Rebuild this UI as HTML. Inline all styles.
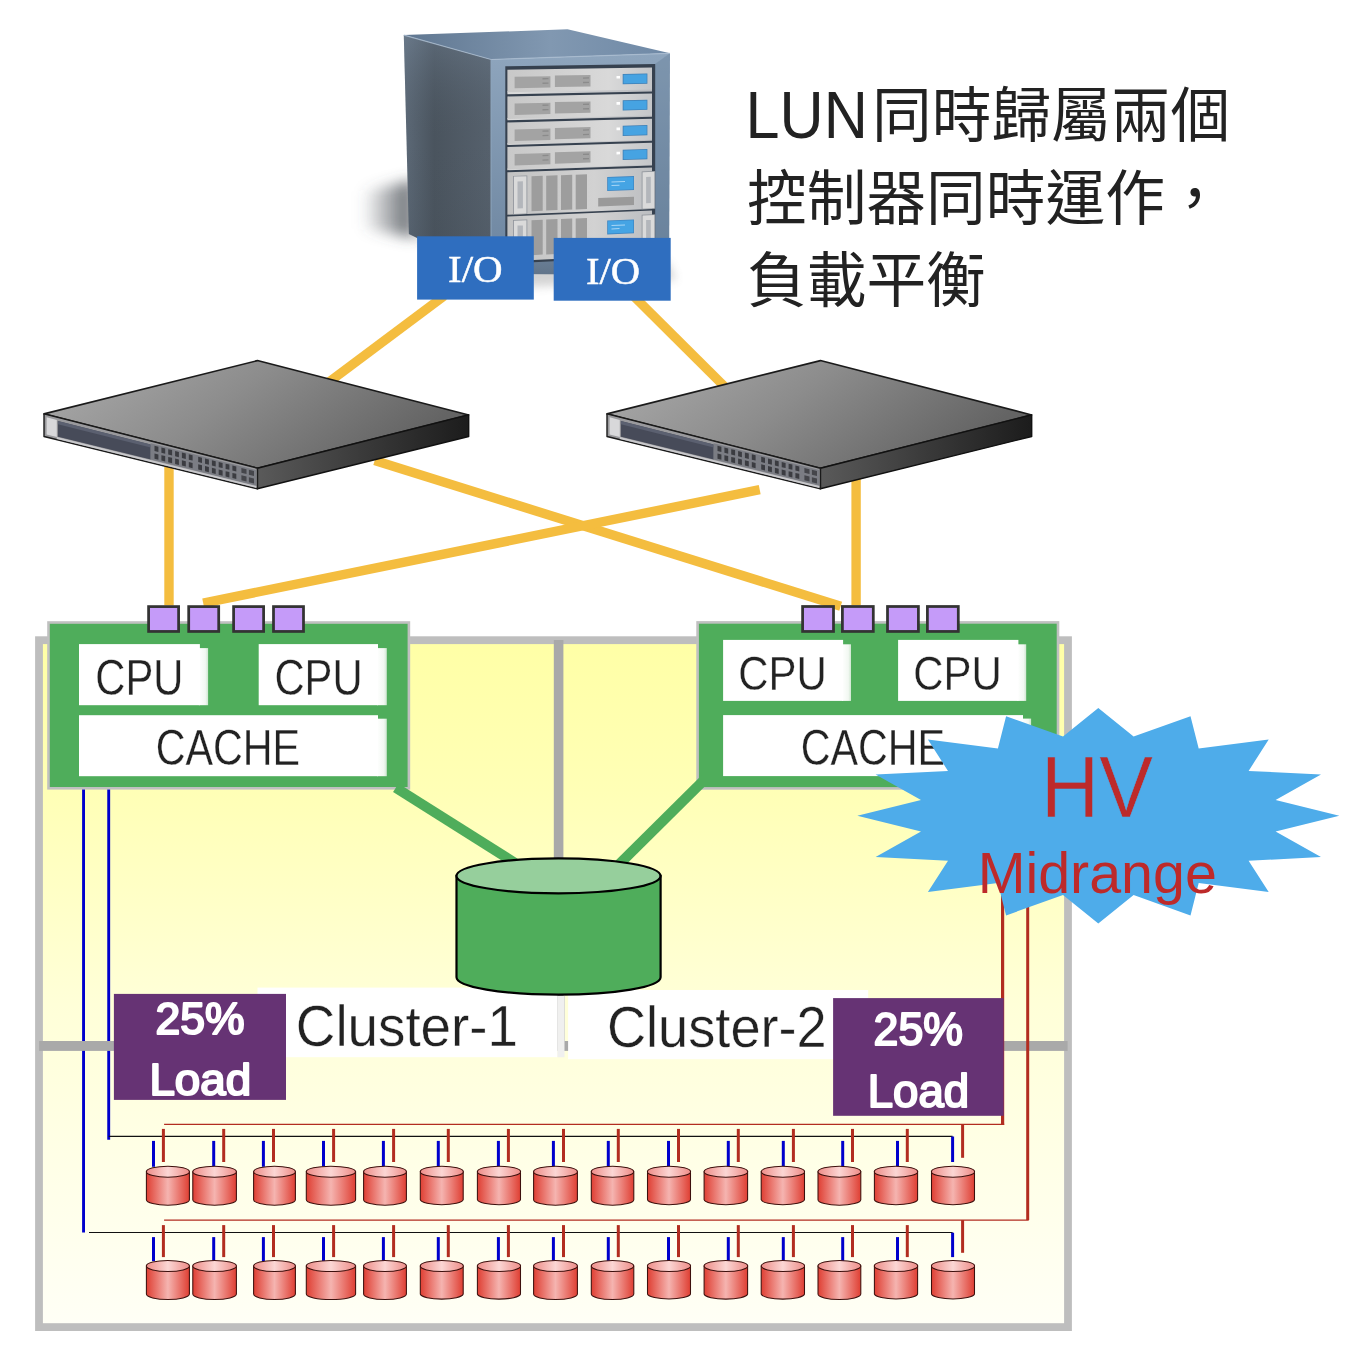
<!DOCTYPE html>
<html lang="zh-Hant"><head><meta charset="utf-8"><title>LUN Active-Active Controllers</title>
<style>
html,body{margin:0;padding:0;background:#fff}
body{width:1352px;height:1366px;overflow:hidden;font-family:"Liberation Sans",sans-serif}
svg{display:block;will-change:transform}
svg text{font-family:"Liberation Sans",sans-serif}
svg text.ser{font-family:"Liberation Serif",serif}
svg text.cjk{font-family:"Liberation Sans","Noto Sans CJK TC",sans-serif}
</style></head><body>
<svg width="1352" height="1366" viewBox="0 0 1352 1366" role="img" aria-label="LUN同時歸屬兩個控制器同時運作，負載平衡">
<desc>LUN同時歸屬兩個控制器同時運作，負載平衡 — server with two I/O ports, two switches, two controllers (CPU, CPU, CACHE) sharing one LUN, Cluster-1 and Cluster-2 each at 25% Load, HV Midrange, two rows of 15 disks.</desc>
<defs>

<filter id="blur6" x="-50%" y="-50%" width="200%" height="200%"><feGaussianBlur stdDeviation="7"/></filter>
<filter id="blur5" x="-50%" y="-50%" width="200%" height="200%"><feGaussianBlur stdDeviation="5"/></filter>
<linearGradient id="gShadow" x1="0" y1="0" x2="1" y2="0"><stop offset="0" stop-color="#50555c" stop-opacity="0"/><stop offset=".55" stop-color="#50555c" stop-opacity=".5"/><stop offset="1" stop-color="#454a50" stop-opacity=".85"/></linearGradient>
<linearGradient id="gTop" x1="0" y1="0" x2="1" y2="0"><stop offset="0" stop-color="#5f7690"/><stop offset=".55" stop-color="#8198b1"/><stop offset="1" stop-color="#6f89a6"/></linearGradient>
<linearGradient id="gLeft" x1="0" y1="0" x2="1" y2="0"><stop offset="0" stop-color="#5d6a78"/><stop offset=".35" stop-color="#4a545e"/><stop offset="1" stop-color="#56616d"/></linearGradient>
<linearGradient id="gLeftV" x1="0" y1="0" x2="0" y2="1"><stop offset="0" stop-color="#8aa0b8" stop-opacity=".28"/><stop offset=".45" stop-color="#4a545e" stop-opacity="0"/><stop offset="1" stop-color="#3d454d" stop-opacity=".25"/></linearGradient>
<linearGradient id="gFront" x1="0" y1="0" x2="0" y2="1"><stop offset="0" stop-color="#8ea5bd"/><stop offset=".85" stop-color="#7189a3"/><stop offset="1" stop-color="#617489"/></linearGradient>
<linearGradient id="gUnit" x1="0" y1="0" x2="1" y2="0"><stop offset="0" stop-color="#c8c8c8"/><stop offset=".7" stop-color="#d9d9d9"/><stop offset="1" stop-color="#c4c6c9"/></linearGradient>
<linearGradient id="gLip" x1="0" y1="0" x2="1" y2="0"><stop offset="0" stop-color="#dcdcdc"/><stop offset="1" stop-color="#b9bbbf"/></linearGradient>
<linearGradient id="gUnit2" x1="0" y1="0" x2="1" y2="0"><stop offset="0" stop-color="#c2c2c2"/><stop offset=".6" stop-color="#d2d2d2"/><stop offset="1" stop-color="#bcbec1"/></linearGradient>


<linearGradient id="gSwTop" x1="0" y1="0" x2="1" y2="0.35"><stop offset="0" stop-color="#adadad"/><stop offset=".5" stop-color="#8c8c8c"/><stop offset="1" stop-color="#646464"/></linearGradient>
<linearGradient id="gSwR" x1="0" y1="0" x2="1" y2="0"><stop offset="0" stop-color="#5a5a5a"/><stop offset=".5" stop-color="#3a3a3a"/><stop offset="1" stop-color="#1c1c1c"/></linearGradient>


<linearGradient id="gBg" x1="0" y1="0" x2="0" y2="1"><stop offset="0" stop-color="#ffffa6"/><stop offset=".22" stop-color="#ffffb6"/><stop offset=".53" stop-color="#ffffd8"/><stop offset="1" stop-color="#fffff6"/></linearGradient>
<linearGradient id="gExt" x1="0" y1="0" x2="1" y2="0"><stop offset="0" stop-color="#fff"/><stop offset=".7" stop-color="#f2f8f2"/><stop offset="1" stop-color="#cfe6d1"/></linearGradient>
<linearGradient id="gDisk" x1="0" y1="0" x2="1" y2="0"><stop offset="0" stop-color="#df3f33"/><stop offset=".5" stop-color="#f5b4b0"/><stop offset="1" stop-color="#df3f33"/></linearGradient>
<linearGradient id="gDiskTop" x1="0" y1="0" x2="1" y2="0"><stop offset="0" stop-color="#ee8d88"/><stop offset=".5" stop-color="#fbd6d4"/><stop offset="1" stop-color="#ee8d88"/></linearGradient>

</defs>
<rect width="1352" height="1366" fill="#fff"/>
<g id="server">
<polygon points="362,192 414,180 414,238 362,228" fill="url(#gShadow)" filter="url(#blur6)"/>
<polygon points="410,236 668,262 676,280 500,288" fill="#777" opacity=".32" filter="url(#blur5)"/>
<polygon points="403.8,35.1 567.5,29.3 670,53.3 491,59.5" fill="url(#gTop)"/>
<polygon points="403.8,35.1 491,59.5 491,274 408.9,234.1" fill="url(#gLeft)"/>
<polygon points="403.8,35.1 491,59.5 491,274 408.9,234.1" fill="url(#gLeftV)"/>
<polygon points="491,59.5 670,53.3 669,275 491,274" fill="url(#gFront)"/>
<polygon points="655,64 670,53.3 669,275 655,270" fill="#5f7792" opacity=".35"/>
<polyline points="403.8,35.1 491,59.5 670,53.3" fill="none" stroke="#a9bccf" stroke-width="1.2" opacity=".8"/>
<line x1="491" y1="59.5" x2="491" y2="274" stroke="#8fa6bd" stroke-width="1.4" opacity=".7"/>
<polygon points="505.3,66.3 655.2,64 655.2,256.3 505.3,263.6" fill="#36414f"/>
<polygon points="507.4,91.2 652,88.4 652,91.4 507.4,94.3" fill="url(#gLip)"/>
<polygon points="507.4,69.7 652,67.4 652,89.4 507.4,92.2" fill="url(#gUnit)"/>
<polygon points="514.6,76.8 550.4,76.2 550.4,87.6 514.6,88.2" fill="#a3a3a3"/>
<polygon points="554.9,75.6 590.5,75 590.5,86.4 554.9,87" fill="#a3a3a3"/>
<polygon points="542.5,78.1 548.5,78 548.5,79.3 542.5,79.4" fill="#8b8b8b"/>
<polygon points="542.5,82.6 548.5,82.5 548.5,83.8 542.5,83.9" fill="#8b8b8b"/>
<polygon points="583,77.4 589,77.3 589,78.6 583,78.7" fill="#8b8b8b"/>
<polygon points="583,81.8 589,81.7 589,83.1 583,83.2" fill="#8b8b8b"/>
<polygon points="622.7,74 647.4,73.6 647.4,83.7 622.7,84.2" fill="#3f7fb5"/>
<polygon points="623.5,74.7 646.7,74.3 646.7,83.1 623.5,83.5" fill="#46a3e2"/>
<polygon points="616.5,75.9 620,75.9 620,78.5 616.5,78.6" fill="#fff"/>
<polygon points="507.4,117.9 652,114.4 652,116.8 507.4,120.3" fill="url(#gLip)"/>
<polygon points="507.4,96.4 652,93.4 652,115.4 507.4,118.9" fill="url(#gUnit)"/>
<polygon points="514.6,103.5 550.4,102.7 550.4,114.1 514.6,114.9" fill="#a3a3a3"/>
<polygon points="554.9,102.1 590.5,101.4 590.5,112.7 554.9,113.5" fill="#a3a3a3"/>
<polygon points="542.5,104.6 548.5,104.5 548.5,105.8 542.5,106" fill="#8b8b8b"/>
<polygon points="542.5,109.1 548.5,109 548.5,110.3 542.5,110.5" fill="#8b8b8b"/>
<polygon points="583,103.7 589,103.6 589,104.9 583,105.1" fill="#8b8b8b"/>
<polygon points="583,108.2 589,108.1 589,109.4 583,109.5" fill="#8b8b8b"/>
<polygon points="622.7,100.2 647.4,99.7 647.4,109.8 622.7,110.4" fill="#3f7fb5"/>
<polygon points="623.5,100.9 646.7,100.4 646.7,109.2 623.5,109.7" fill="#46a3e2"/>
<polygon points="616.5,102.1 620,102.1 620,104.7 616.5,104.8" fill="#fff"/>
<polygon points="507.4,142.9 652,138.8 652,140.8 507.4,144.9" fill="url(#gLip)"/>
<polygon points="507.4,122.4 652,118.8 652,139.8 507.4,143.9" fill="url(#gUnit)"/>
<polygon points="514.6,129.4 550.4,128.5 550.4,139.9 514.6,140.9" fill="#a3a3a3"/>
<polygon points="554.9,127.9 590.5,127 590.5,138.3 554.9,139.3" fill="#a3a3a3"/>
<polygon points="542.5,130.5 548.5,130.3 548.5,131.7 542.5,131.8" fill="#8b8b8b"/>
<polygon points="542.5,135 548.5,134.8 548.5,136.1 542.5,136.3" fill="#8b8b8b"/>
<polygon points="583,129.4 589,129.3 589,130.6 583,130.7" fill="#8b8b8b"/>
<polygon points="583,133.9 589,133.7 589,135 583,135.2" fill="#8b8b8b"/>
<polygon points="622.7,125.7 647.4,125.1 647.4,135.2 622.7,135.9" fill="#3f7fb5"/>
<polygon points="623.5,126.4 646.7,125.8 646.7,134.5 623.5,135.2" fill="#46a3e2"/>
<polygon points="616.5,127.6 620,127.6 620,130.2 616.5,130.3" fill="#fff"/>
<polygon points="507.4,168.5 652,163.8 652,165.4 507.4,170.2" fill="url(#gLip)"/>
<polygon points="507.4,147 652,142.8 652,164.8 507.4,169.5" fill="url(#gUnit)"/>
<polygon points="514.6,154 550.4,152.9 550.4,164.3 514.6,165.5" fill="#a3a3a3"/>
<polygon points="554.9,152.3 590.5,151.3 590.5,162.6 554.9,163.7" fill="#a3a3a3"/>
<polygon points="542.5,154.9 548.5,154.8 548.5,156.1 542.5,156.3" fill="#8b8b8b"/>
<polygon points="542.5,159.4 548.5,159.2 548.5,160.6 542.5,160.8" fill="#8b8b8b"/>
<polygon points="583,153.7 589,153.5 589,154.9 583,155" fill="#8b8b8b"/>
<polygon points="583,158.1 589,158 589,159.3 583,159.5" fill="#8b8b8b"/>
<polygon points="622.7,149.8 647.4,149.1 647.4,159.2 622.7,160" fill="#3f7fb5"/>
<polygon points="623.5,150.5 646.7,149.8 646.7,158.6 623.5,159.3" fill="#46a3e2"/>
<polygon points="616.5,151.8 620,151.7 620,154.3 616.5,154.4" fill="#fff"/>
<polygon points="507.4,172.3 652,167.5 652,208.9 507.4,214.7" fill="url(#gUnit2)"/>
<polygon points="531.5,176.2 542.7,175.8 542.7,210.7 531.5,211.2" fill="#9d9d9d"/>
<polygon points="546.2,175.7 557.5,175.3 557.5,210.1 546.2,210.6" fill="#9d9d9d"/>
<polygon points="561,175.2 572.2,174.8 572.2,209.5 561,210" fill="#9d9d9d"/>
<polygon points="575.7,174.7 587,174.3 587,208.9 575.7,209.4" fill="#9d9d9d"/>
<polygon points="607.2,177 634,176.1 634,190 607.2,191" fill="#3f86c2"/>
<polygon points="608,177.8 633.3,176.9 633.3,189.3 608,190.2" fill="#45a4e4"/>
<polygon points="611.5,181.6 625,181.1 625,182.1 611.5,182.6" fill="#a8d6f5"/>
<polygon points="611.5,185.1 619.5,184.8 619.5,185.7 611.5,186" fill="#a8d6f5"/>
<polygon points="598.2,198.1 634,196.8 634,205 598.2,206.4" fill="#9a9a9a"/>
<polygon points="513.1,175.9 527.3,175.4 527.3,213.9 513.1,214.5" fill="#8d9299"/>
<polygon points="513.9,176.6 526.5,176.2 526.5,213.4 513.9,213.9" fill="#dadada"/>
<polygon points="517.5,181.5 522.9,181.3 522.9,208.2 517.5,208.4" fill="#b3b6bb"/>
<polygon points="641.7,171.5 655.2,171.1 655.2,208.7 641.7,209.3" fill="#8d9299"/>
<polygon points="642.5,172.2 654.4,171.8 654.4,208.2 642.5,208.7" fill="#dadada"/>
<polygon points="646.1,177 650.8,176.8 650.8,203.1 646.1,203.3" fill="#b3b6bb"/>
<polygon points="507.4,216.5 652,210.6 652,254.3 507.4,261.3" fill="url(#gUnit2)"/>
<polygon points="531.5,220.2 542.7,219.8 542.7,254.6 531.5,255.2" fill="#9d9d9d"/>
<polygon points="546.2,219.6 557.5,219.1 557.5,253.9 546.2,254.5" fill="#9d9d9d"/>
<polygon points="561,219 572.2,218.5 572.2,253.2 561,253.8" fill="#9d9d9d"/>
<polygon points="575.7,218.4 587,217.9 587,252.5 575.7,253.1" fill="#9d9d9d"/>
<polygon points="607.2,220.5 634,219.4 634,233.3 607.2,234.5" fill="#3f86c2"/>
<polygon points="608,221.3 633.3,220.2 633.3,232.5 608,233.6" fill="#45a4e4"/>
<polygon points="611.5,225 625,224.5 625,225.4 611.5,226" fill="#a8d6f5"/>
<polygon points="611.5,228.5 619.5,228.1 619.5,229.1 611.5,229.5" fill="#a8d6f5"/>
<polygon points="598.2,241.7 634,240 634,248.2 598.2,249.9" fill="#9a9a9a"/>
<polygon points="513.1,220.1 527.3,219.5 527.3,258 513.1,258.7" fill="#8d9299"/>
<polygon points="513.9,220.8 526.5,220.2 526.5,257.4 513.9,258" fill="#dadada"/>
<polygon points="517.5,225.6 522.9,225.4 522.9,252.3 517.5,252.6" fill="#b3b6bb"/>
<polygon points="641.7,214.7 655.2,214.2 655.2,251.8 641.7,252.5" fill="#8d9299"/>
<polygon points="642.5,215.4 654.4,214.9 654.4,251.3 642.5,251.8" fill="#dadada"/>
<polygon points="646.1,220.1 650.8,219.9 650.8,246.3 646.1,246.5" fill="#b3b6bb"/>
</g>
<g stroke="#f4bd3f" stroke-width="9.4" fill="none">
<line x1="444" y1="296" x2="329" y2="382"/>
<line x1="633.5" y1="296" x2="726" y2="388"/>
<line x1="169" y1="462" x2="169" y2="605.6"/>
<line x1="856.1" y1="470" x2="856.1" y2="605.2"/>
<line x1="374.7" y1="460.6" x2="840.7" y2="606.2"/>
<line x1="759.7" y1="489.7" x2="203.2" y2="603.1"/>
</g>
<g transform="translate(0,0)">
<polygon points="44,413.9 257.4,360.6 468.7,414.9 257.4,468.2" fill="url(#gSwTop)" stroke="#1a1a1a" stroke-width="1.6" stroke-linejoin="round"/>
<polygon points="257.4,468.2 468.7,414.9 468.7,436.5 257.4,488.8" fill="url(#gSwR)" stroke="#111" stroke-width="1.4" stroke-linejoin="round"/>
<polygon points="44,413.9 257.4,468.2 257.4,488.8 44,436.5" fill="#9a9a9d" stroke="#1a1a1a" stroke-width="1.4" stroke-linejoin="round"/>
<polygon points="46.6,417.3 56.8,419.9 56.8,436.9 46.6,434.4" fill="#d8d8da"/>
<polygon points="57.9,421 150.7,444.5 150.7,459.6 57.9,436.8" fill="#474b59"/>
<polygon points="57.9,421 150.7,444.5 150.7,447.5 57.9,424.2" fill="#5b6070"/>
<polygon points="150.7,443.2 256.3,470 256.3,485.7 150.7,459.6" fill="#7b7d84"/>
<polygon points="56.8,436.9 256.3,486.1 256.3,487.9 56.8,439" fill="#c9c9cc"/>
<polygon points="154.5,445.7 158.4,446.7 158.4,452 154.5,451.1" fill="#3b3c41"/>
<polygon points="161.4,447.4 165.2,448.4 165.2,453.8 161.4,452.8" fill="#3b3c41"/>
<polygon points="168.2,449.2 172.1,450.1 172.1,455.5 168.2,454.5" fill="#3b3c41"/>
<polygon points="175.1,450.9 178.9,451.9 178.9,457.2 175.1,456.2" fill="#3b3c41"/>
<polygon points="181.9,452.6 185.8,453.6 185.8,458.9 181.9,457.9" fill="#3b3c41"/>
<polygon points="188.8,454.3 192.6,455.3 192.6,460.6 188.8,459.7" fill="#3b3c41"/>
<polygon points="198.2,456.7 202,457.7 202,463 198.2,462" fill="#3b3c41"/>
<polygon points="205,458.5 208.9,459.4 208.9,464.7 205,463.7" fill="#3b3c41"/>
<polygon points="211.9,460.2 215.7,461.2 215.7,466.4 211.9,465.4" fill="#3b3c41"/>
<polygon points="218.7,461.9 222.6,462.9 222.6,468.1 218.7,467.2" fill="#3b3c41"/>
<polygon points="225.6,463.7 229.4,464.6 229.4,469.8 225.6,468.9" fill="#3b3c41"/>
<polygon points="232.4,465.4 236.3,466.4 236.3,471.6 232.4,470.6" fill="#3b3c41"/>
<polygon points="154.5,453.5 158.4,454.4 158.4,459.8 154.5,458.8" fill="#3b3c41"/>
<polygon points="161.4,455.2 165.2,456.1 165.2,461.5 161.4,460.5" fill="#3b3c41"/>
<polygon points="168.2,456.9 172.1,457.8 172.1,463.2 168.2,462.2" fill="#3b3c41"/>
<polygon points="175.1,458.6 178.9,459.5 178.9,464.9 175.1,463.9" fill="#3b3c41"/>
<polygon points="181.9,460.3 185.8,461.2 185.8,466.6 181.9,465.6" fill="#3b3c41"/>
<polygon points="188.8,462 192.6,463 192.6,468.3 188.8,467.3" fill="#3b3c41"/>
<polygon points="198.2,464.3 202,465.3 202,470.6 198.2,469.6" fill="#3b3c41"/>
<polygon points="205,466.1 208.9,467 208.9,472.3 205,471.3" fill="#3b3c41"/>
<polygon points="211.9,467.8 215.7,468.7 215.7,474 211.9,473" fill="#3b3c41"/>
<polygon points="218.7,469.5 222.6,470.4 222.6,475.7 218.7,474.7" fill="#3b3c41"/>
<polygon points="225.6,471.2 229.4,472.1 229.4,477.4 225.6,476.4" fill="#3b3c41"/>
<polygon points="232.4,472.9 236.3,473.8 236.3,479 232.4,478.1" fill="#3b3c41"/>
<polygon points="241.4,467.9 246.5,469.2 246.5,474.1 241.4,472.8" fill="#45464b"/>
<polygon points="248.9,469.8 254,471 254,476 248.9,474.7" fill="#45464b"/>
<polygon points="241.4,475.3 246.5,476.6 246.5,481.6 241.4,480.3" fill="#45464b"/>
<polygon points="248.9,477.2 254,478.5 254,483.4 248.9,482.2" fill="#45464b"/>
</g>
<g transform="translate(563,0)">
<polygon points="44,413.9 257.4,360.6 468.7,414.9 257.4,468.2" fill="url(#gSwTop)" stroke="#1a1a1a" stroke-width="1.6" stroke-linejoin="round"/>
<polygon points="257.4,468.2 468.7,414.9 468.7,436.5 257.4,488.8" fill="url(#gSwR)" stroke="#111" stroke-width="1.4" stroke-linejoin="round"/>
<polygon points="44,413.9 257.4,468.2 257.4,488.8 44,436.5" fill="#9a9a9d" stroke="#1a1a1a" stroke-width="1.4" stroke-linejoin="round"/>
<polygon points="46.6,417.3 56.8,419.9 56.8,436.9 46.6,434.4" fill="#d8d8da"/>
<polygon points="57.9,421 150.7,444.5 150.7,459.6 57.9,436.8" fill="#474b59"/>
<polygon points="57.9,421 150.7,444.5 150.7,447.5 57.9,424.2" fill="#5b6070"/>
<polygon points="150.7,443.2 256.3,470 256.3,485.7 150.7,459.6" fill="#7b7d84"/>
<polygon points="56.8,436.9 256.3,486.1 256.3,487.9 56.8,439" fill="#c9c9cc"/>
<polygon points="154.5,445.7 158.4,446.7 158.4,452 154.5,451.1" fill="#3b3c41"/>
<polygon points="161.4,447.4 165.2,448.4 165.2,453.8 161.4,452.8" fill="#3b3c41"/>
<polygon points="168.2,449.2 172.1,450.1 172.1,455.5 168.2,454.5" fill="#3b3c41"/>
<polygon points="175.1,450.9 178.9,451.9 178.9,457.2 175.1,456.2" fill="#3b3c41"/>
<polygon points="181.9,452.6 185.8,453.6 185.8,458.9 181.9,457.9" fill="#3b3c41"/>
<polygon points="188.8,454.3 192.6,455.3 192.6,460.6 188.8,459.7" fill="#3b3c41"/>
<polygon points="198.2,456.7 202,457.7 202,463 198.2,462" fill="#3b3c41"/>
<polygon points="205,458.5 208.9,459.4 208.9,464.7 205,463.7" fill="#3b3c41"/>
<polygon points="211.9,460.2 215.7,461.2 215.7,466.4 211.9,465.4" fill="#3b3c41"/>
<polygon points="218.7,461.9 222.6,462.9 222.6,468.1 218.7,467.2" fill="#3b3c41"/>
<polygon points="225.6,463.7 229.4,464.6 229.4,469.8 225.6,468.9" fill="#3b3c41"/>
<polygon points="232.4,465.4 236.3,466.4 236.3,471.6 232.4,470.6" fill="#3b3c41"/>
<polygon points="154.5,453.5 158.4,454.4 158.4,459.8 154.5,458.8" fill="#3b3c41"/>
<polygon points="161.4,455.2 165.2,456.1 165.2,461.5 161.4,460.5" fill="#3b3c41"/>
<polygon points="168.2,456.9 172.1,457.8 172.1,463.2 168.2,462.2" fill="#3b3c41"/>
<polygon points="175.1,458.6 178.9,459.5 178.9,464.9 175.1,463.9" fill="#3b3c41"/>
<polygon points="181.9,460.3 185.8,461.2 185.8,466.6 181.9,465.6" fill="#3b3c41"/>
<polygon points="188.8,462 192.6,463 192.6,468.3 188.8,467.3" fill="#3b3c41"/>
<polygon points="198.2,464.3 202,465.3 202,470.6 198.2,469.6" fill="#3b3c41"/>
<polygon points="205,466.1 208.9,467 208.9,472.3 205,471.3" fill="#3b3c41"/>
<polygon points="211.9,467.8 215.7,468.7 215.7,474 211.9,473" fill="#3b3c41"/>
<polygon points="218.7,469.5 222.6,470.4 222.6,475.7 218.7,474.7" fill="#3b3c41"/>
<polygon points="225.6,471.2 229.4,472.1 229.4,477.4 225.6,476.4" fill="#3b3c41"/>
<polygon points="232.4,472.9 236.3,473.8 236.3,479 232.4,478.1" fill="#3b3c41"/>
<polygon points="241.4,467.9 246.5,469.2 246.5,474.1 241.4,472.8" fill="#45464b"/>
<polygon points="248.9,469.8 254,471 254,476 248.9,474.7" fill="#45464b"/>
<polygon points="241.4,475.3 246.5,476.6 246.5,481.6 241.4,480.3" fill="#45464b"/>
<polygon points="248.9,477.2 254,478.5 254,483.4 248.9,482.2" fill="#45464b"/>
</g>
<rect x="417.1" y="236.3" width="116.7" height="63.3" fill="#2f6ebf"/>
<rect x="553.7" y="237.9" width="117" height="62.8" fill="#2f6ebf"/>
<text transform="translate(448.02,281.8) scale(1.08,1)" font-size="37.88" fill="#fff" class="ser" stroke="#fff" stroke-width=".5">I/O</text>
<text transform="translate(586.03,283.6) scale(1.06,1)" font-size="38.33" fill="#fff" class="ser" stroke="#fff" stroke-width=".5">I/O</text>
<g id="title"><text transform="translate(745.58,137.7) scale(0.91,1)" font-size="67.15" fill="#222">LUN</text>
<text class="cjk" x="872" y="136.6" font-size="59.7" fill="#222">同時歸屬兩個</text>
<text class="cjk" x="747" y="220.2" font-size="59.7" fill="#222">控制器同時運作，</text>
<text class="cjk" x="747" y="301.8" font-size="59.7" fill="#222">負載平衡</text></g>
<rect x="39" y="640.2" width="1029" height="686.9" fill="url(#gBg)" stroke="#bebebe" stroke-width="7.8"/>
<g stroke="#0000cc" stroke-width="2.9">
<line x1="83.55" y1="789" x2="83.55" y2="1232.5"/>
<line x1="108.7" y1="789" x2="108.7" y2="1139.7"/>
</g>
<rect x="553.8" y="640" width="9.6" height="410" fill="#a9a9a9"/>
<rect x="39.1" y="1041" width="1028.5" height="9.9" fill="#a9a9a9"/>
<rect x="48.5" y="622.5" width="360.4" height="165.8" fill="#4fad5b" stroke="#c0c0c0" stroke-width="2.6"/>
<rect x="198.9" y="648.1" width="9.2" height="57.1" fill="url(#gExt)"/><rect x="79" y="644.1" width="120.9" height="61.1" fill="#fff"/>
<rect x="377" y="648.1" width="9.8" height="57.1" fill="url(#gExt)"/><rect x="258.7" y="644.1" width="119.3" height="61.1" fill="#fff"/>
<rect x="377" y="718.7" width="9.8" height="57.5" fill="url(#gExt)"/><rect x="79" y="715.2" width="299" height="61" fill="#fff"/>
<text transform="translate(95.32,694.56) scale(0.84,1)" font-size="49.72" fill="#222" stroke="#fff" stroke-width="0.3">CPU</text>
<text transform="translate(274.42,694.56) scale(0.84,1)" font-size="49.72" fill="#222" stroke="#fff" stroke-width="0.3">CPU</text>
<text transform="translate(155.65,765.36) scale(0.83,1)" font-size="49.72" fill="#222" stroke="#fff" stroke-width="0.3">CACHE</text>
<rect x="697.6" y="622.4" width="360.4" height="166" fill="#4fad5b" stroke="#c0c0c0" stroke-width="2.6"/>
<rect x="842.1" y="644.3" width="8.9" height="56.6" fill="url(#gExt)"/><rect x="723.1" y="639.9" width="120" height="61" fill="#fff"/>
<rect x="1017.4" y="644.3" width="8.8" height="56.6" fill="url(#gExt)"/><rect x="898.1" y="639.9" width="120.3" height="61" fill="#fff"/>
<rect x="1022" y="718.6" width="9.1" height="57.5" fill="url(#gExt)"/><rect x="723.1" y="715.1" width="299.9" height="61" fill="#fff"/>
<text transform="translate(738.32,690.37) scale(0.86,1)" font-size="48.73" fill="#222" stroke="#fff" stroke-width="0.3">CPU</text>
<text transform="translate(913.32,690.37) scale(0.86,1)" font-size="48.73" fill="#222" stroke="#fff" stroke-width="0.3">CPU</text>
<text transform="translate(800.65,765.26) scale(0.83,1)" font-size="49.72" fill="#222" stroke="#fff" stroke-width="0.3">CACHE</text>
<g stroke="#4fad5b" stroke-width="10.2">
<line x1="395.8" y1="787.7" x2="515" y2="863"/>
<line x1="705" y1="779.2" x2="618" y2="865.4"/>
</g>
<g fill="#c59bf9" stroke="#333" stroke-width="2.75">
<rect x="148.6" y="606.6" width="30" height="24.85"/>
<rect x="188.7" y="606.6" width="30" height="24.85"/>
<rect x="233.6" y="606.6" width="30" height="24.85"/>
<rect x="273.5" y="606.6" width="30" height="24.85"/>
<rect x="802.6" y="606.5" width="30.9" height="24.95"/>
<rect x="842.4" y="606.5" width="30.9" height="24.95"/>
<rect x="887.5" y="606.5" width="30.9" height="24.95"/>
<rect x="927.4" y="606.5" width="30.9" height="24.95"/>
</g>
<g stroke="#b22d20" fill="none">
<line x1="1002.6" y1="880" x2="1002.6" y2="1124.3" stroke-width="3.2"/>
<line x1="1027.7" y1="880" x2="1027.7" y2="1220.1" stroke-width="3"/>
<line x1="164.1" y1="1124.3" x2="1004.3" y2="1124.3" stroke-width="1.3"/>
<line x1="164.1" y1="1220.1" x2="1028.7" y2="1220.1" stroke-width="1.3"/>
</g>
<g stroke="#111" stroke-width="1.1">
<line x1="108.7" y1="1136.4" x2="952.6" y2="1136.4"/>
<line x1="89" y1="1232.5" x2="952.6" y2="1232.5"/>
</g>
<g stroke-width="3">
<line x1="163.4" y1="1128.9" x2="163.4" y2="1162" stroke="#b22d20"/>
<line x1="153.5" y1="1140.9" x2="153.5" y2="1166.8" stroke="#0000cc"/>
<line x1="223.7" y1="1128.9" x2="223.7" y2="1162" stroke="#b22d20"/>
<line x1="213.7" y1="1140.9" x2="213.7" y2="1166.8" stroke="#0000cc"/>
<line x1="273.5" y1="1128.9" x2="273.5" y2="1162" stroke="#b22d20"/>
<line x1="263.4" y1="1140.9" x2="263.4" y2="1166.8" stroke="#0000cc"/>
<line x1="333.6" y1="1128.9" x2="333.6" y2="1162" stroke="#b22d20"/>
<line x1="323.5" y1="1140.9" x2="323.5" y2="1166.8" stroke="#0000cc"/>
<line x1="393.6" y1="1128.9" x2="393.6" y2="1162" stroke="#b22d20"/>
<line x1="383.4" y1="1140.9" x2="383.4" y2="1166.8" stroke="#0000cc"/>
<line x1="448.3" y1="1128.9" x2="448.3" y2="1162" stroke="#b22d20"/>
<line x1="438.3" y1="1140.9" x2="438.3" y2="1166.8" stroke="#0000cc"/>
<line x1="508.4" y1="1128.9" x2="508.4" y2="1162" stroke="#b22d20"/>
<line x1="498.4" y1="1140.9" x2="498.4" y2="1166.8" stroke="#0000cc"/>
<line x1="563.5" y1="1128.9" x2="563.5" y2="1162" stroke="#b22d20"/>
<line x1="553.4" y1="1140.9" x2="553.4" y2="1166.8" stroke="#0000cc"/>
<line x1="618.3" y1="1128.9" x2="618.3" y2="1162" stroke="#b22d20"/>
<line x1="608.3" y1="1140.9" x2="608.3" y2="1166.8" stroke="#0000cc"/>
<line x1="678.5" y1="1128.9" x2="678.5" y2="1162" stroke="#b22d20"/>
<line x1="668.5" y1="1140.9" x2="668.5" y2="1166.8" stroke="#0000cc"/>
<line x1="738.3" y1="1128.9" x2="738.3" y2="1162" stroke="#b22d20"/>
<line x1="728.3" y1="1140.9" x2="728.3" y2="1166.8" stroke="#0000cc"/>
<line x1="793.4" y1="1128.9" x2="793.4" y2="1162" stroke="#b22d20"/>
<line x1="783.3" y1="1140.9" x2="783.3" y2="1166.8" stroke="#0000cc"/>
<line x1="852.5" y1="1128.9" x2="852.5" y2="1162" stroke="#b22d20"/>
<line x1="842.7" y1="1140.9" x2="842.7" y2="1166.8" stroke="#0000cc"/>
<line x1="907.3" y1="1128.9" x2="907.3" y2="1162" stroke="#b22d20"/>
<line x1="897.5" y1="1140.9" x2="897.5" y2="1166.8" stroke="#0000cc"/>
<line x1="962.6" y1="1124.3" x2="962.6" y2="1157.8" stroke="#b22d20"/>
<line x1="952.6" y1="1136.5" x2="952.6" y2="1162" stroke="#0000cc"/>
</g>
<path d="M146.4,1171.7 V1199.7 A21.5,5.5 0 0 0 189.4,1199.7 V1171.7 Z" fill="url(#gDisk)" stroke="#3d100d" stroke-width="1.05"/><ellipse cx="167.9" cy="1171.7" rx="21.5" ry="5.5" fill="url(#gDiskTop)" stroke="#3d100d" stroke-width="1.05"/>
<path d="M192.8,1171.7 V1199.7 A21.8,5.5 0 0 0 236.4,1199.7 V1171.7 Z" fill="url(#gDisk)" stroke="#3d100d" stroke-width="1.05"/><ellipse cx="214.6" cy="1171.7" rx="21.8" ry="5.5" fill="url(#gDiskTop)" stroke="#3d100d" stroke-width="1.05"/>
<path d="M253.6,1171.7 V1199.7 A20.9,5.5 0 0 0 295.4,1199.7 V1171.7 Z" fill="url(#gDisk)" stroke="#3d100d" stroke-width="1.05"/><ellipse cx="274.5" cy="1171.7" rx="20.9" ry="5.5" fill="url(#gDiskTop)" stroke="#3d100d" stroke-width="1.05"/>
<path d="M306.3,1171.7 V1199.7 A24.6,5.5 0 0 0 355.6,1199.7 V1171.7 Z" fill="url(#gDisk)" stroke="#3d100d" stroke-width="1.05"/><ellipse cx="330.9" cy="1171.7" rx="24.6" ry="5.5" fill="url(#gDiskTop)" stroke="#3d100d" stroke-width="1.05"/>
<path d="M363.6,1171.7 V1199.7 A21.4,5.5 0 0 0 406.4,1199.7 V1171.7 Z" fill="url(#gDisk)" stroke="#3d100d" stroke-width="1.05"/><ellipse cx="385" cy="1171.7" rx="21.4" ry="5.5" fill="url(#gDiskTop)" stroke="#3d100d" stroke-width="1.05"/>
<path d="M420.3,1171.7 V1199.7 A21.5,5.5 0 0 0 463.2,1199.7 V1171.7 Z" fill="url(#gDisk)" stroke="#3d100d" stroke-width="1.05"/><ellipse cx="441.8" cy="1171.7" rx="21.5" ry="5.5" fill="url(#gDiskTop)" stroke="#3d100d" stroke-width="1.05"/>
<path d="M477.4,1171.7 V1199.7 A21.6,5.5 0 0 0 520.5,1199.7 V1171.7 Z" fill="url(#gDisk)" stroke="#3d100d" stroke-width="1.05"/><ellipse cx="499" cy="1171.7" rx="21.6" ry="5.5" fill="url(#gDiskTop)" stroke="#3d100d" stroke-width="1.05"/>
<path d="M533.6,1171.7 V1199.7 A21.9,5.5 0 0 0 577.4,1199.7 V1171.7 Z" fill="url(#gDisk)" stroke="#3d100d" stroke-width="1.05"/><ellipse cx="555.5" cy="1171.7" rx="21.9" ry="5.5" fill="url(#gDiskTop)" stroke="#3d100d" stroke-width="1.05"/>
<path d="M591.3,1171.7 V1199.7 A21.2,5.5 0 0 0 633.8,1199.7 V1171.7 Z" fill="url(#gDisk)" stroke="#3d100d" stroke-width="1.05"/><ellipse cx="612.5" cy="1171.7" rx="21.2" ry="5.5" fill="url(#gDiskTop)" stroke="#3d100d" stroke-width="1.05"/>
<path d="M647.5,1171.7 V1199.7 A21.6,5.5 0 0 0 690.5,1199.7 V1171.7 Z" fill="url(#gDisk)" stroke="#3d100d" stroke-width="1.05"/><ellipse cx="669" cy="1171.7" rx="21.6" ry="5.5" fill="url(#gDiskTop)" stroke="#3d100d" stroke-width="1.05"/>
<path d="M704.1,1171.7 V1199.7 A21.8,5.5 0 0 0 747.6,1199.7 V1171.7 Z" fill="url(#gDisk)" stroke="#3d100d" stroke-width="1.05"/><ellipse cx="725.9" cy="1171.7" rx="21.8" ry="5.5" fill="url(#gDiskTop)" stroke="#3d100d" stroke-width="1.05"/>
<path d="M761.2,1171.7 V1199.7 A21.7,5.5 0 0 0 804.5,1199.7 V1171.7 Z" fill="url(#gDisk)" stroke="#3d100d" stroke-width="1.05"/><ellipse cx="782.9" cy="1171.7" rx="21.7" ry="5.5" fill="url(#gDiskTop)" stroke="#3d100d" stroke-width="1.05"/>
<path d="M818,1171.7 V1199.7 A21.4,5.5 0 0 0 860.8,1199.7 V1171.7 Z" fill="url(#gDisk)" stroke="#3d100d" stroke-width="1.05"/><ellipse cx="839.4" cy="1171.7" rx="21.4" ry="5.5" fill="url(#gDiskTop)" stroke="#3d100d" stroke-width="1.05"/>
<path d="M874.4,1171.7 V1199.7 A21.7,5.5 0 0 0 917.6,1199.7 V1171.7 Z" fill="url(#gDisk)" stroke="#3d100d" stroke-width="1.05"/><ellipse cx="896" cy="1171.7" rx="21.7" ry="5.5" fill="url(#gDiskTop)" stroke="#3d100d" stroke-width="1.05"/>
<path d="M931.5,1171.7 V1199.7 A21.6,5.5 0 0 0 974.5,1199.7 V1171.7 Z" fill="url(#gDisk)" stroke="#3d100d" stroke-width="1.05"/><ellipse cx="953" cy="1171.7" rx="21.6" ry="5.5" fill="url(#gDiskTop)" stroke="#3d100d" stroke-width="1.05"/>
<g stroke-width="3">
<line x1="163.4" y1="1225.1" x2="163.4" y2="1257.1" stroke="#b22d20"/>
<line x1="153.5" y1="1237.1" x2="153.5" y2="1261.1" stroke="#0000cc"/>
<line x1="223.7" y1="1225.1" x2="223.7" y2="1257.1" stroke="#b22d20"/>
<line x1="213.7" y1="1237.1" x2="213.7" y2="1261.1" stroke="#0000cc"/>
<line x1="273.5" y1="1225.1" x2="273.5" y2="1257.1" stroke="#b22d20"/>
<line x1="263.4" y1="1237.1" x2="263.4" y2="1261.1" stroke="#0000cc"/>
<line x1="333.6" y1="1225.1" x2="333.6" y2="1257.1" stroke="#b22d20"/>
<line x1="323.5" y1="1237.1" x2="323.5" y2="1261.1" stroke="#0000cc"/>
<line x1="393.6" y1="1225.1" x2="393.6" y2="1257.1" stroke="#b22d20"/>
<line x1="383.4" y1="1237.1" x2="383.4" y2="1261.1" stroke="#0000cc"/>
<line x1="448.3" y1="1225.1" x2="448.3" y2="1257.1" stroke="#b22d20"/>
<line x1="438.3" y1="1237.1" x2="438.3" y2="1261.1" stroke="#0000cc"/>
<line x1="508.4" y1="1225.1" x2="508.4" y2="1257.1" stroke="#b22d20"/>
<line x1="498.4" y1="1237.1" x2="498.4" y2="1261.1" stroke="#0000cc"/>
<line x1="563.5" y1="1225.1" x2="563.5" y2="1257.1" stroke="#b22d20"/>
<line x1="553.4" y1="1237.1" x2="553.4" y2="1261.1" stroke="#0000cc"/>
<line x1="618.3" y1="1225.1" x2="618.3" y2="1257.1" stroke="#b22d20"/>
<line x1="608.3" y1="1237.1" x2="608.3" y2="1261.1" stroke="#0000cc"/>
<line x1="678.5" y1="1225.1" x2="678.5" y2="1257.1" stroke="#b22d20"/>
<line x1="668.5" y1="1237.1" x2="668.5" y2="1261.1" stroke="#0000cc"/>
<line x1="738.3" y1="1225.1" x2="738.3" y2="1257.1" stroke="#b22d20"/>
<line x1="728.3" y1="1237.1" x2="728.3" y2="1261.1" stroke="#0000cc"/>
<line x1="793.4" y1="1225.1" x2="793.4" y2="1257.1" stroke="#b22d20"/>
<line x1="783.3" y1="1237.1" x2="783.3" y2="1261.1" stroke="#0000cc"/>
<line x1="852.5" y1="1225.1" x2="852.5" y2="1257.1" stroke="#b22d20"/>
<line x1="842.7" y1="1237.1" x2="842.7" y2="1261.1" stroke="#0000cc"/>
<line x1="907.3" y1="1225.1" x2="907.3" y2="1257.1" stroke="#b22d20"/>
<line x1="897.5" y1="1237.1" x2="897.5" y2="1261.1" stroke="#0000cc"/>
<line x1="962.6" y1="1220.1" x2="962.6" y2="1252.8" stroke="#b22d20"/>
<line x1="952.6" y1="1232.7" x2="952.6" y2="1257.1" stroke="#0000cc"/>
</g>
<path d="M146.4,1266 V1294 A21.5,5.5 0 0 0 189.4,1294 V1266 Z" fill="url(#gDisk)" stroke="#3d100d" stroke-width="1.05"/><ellipse cx="167.9" cy="1266" rx="21.5" ry="5.5" fill="url(#gDiskTop)" stroke="#3d100d" stroke-width="1.05"/>
<path d="M192.8,1266 V1294 A21.8,5.5 0 0 0 236.4,1294 V1266 Z" fill="url(#gDisk)" stroke="#3d100d" stroke-width="1.05"/><ellipse cx="214.6" cy="1266" rx="21.8" ry="5.5" fill="url(#gDiskTop)" stroke="#3d100d" stroke-width="1.05"/>
<path d="M253.6,1266 V1294 A20.9,5.5 0 0 0 295.4,1294 V1266 Z" fill="url(#gDisk)" stroke="#3d100d" stroke-width="1.05"/><ellipse cx="274.5" cy="1266" rx="20.9" ry="5.5" fill="url(#gDiskTop)" stroke="#3d100d" stroke-width="1.05"/>
<path d="M306.3,1266 V1294 A24.6,5.5 0 0 0 355.6,1294 V1266 Z" fill="url(#gDisk)" stroke="#3d100d" stroke-width="1.05"/><ellipse cx="330.9" cy="1266" rx="24.6" ry="5.5" fill="url(#gDiskTop)" stroke="#3d100d" stroke-width="1.05"/>
<path d="M363.6,1266 V1294 A21.4,5.5 0 0 0 406.4,1294 V1266 Z" fill="url(#gDisk)" stroke="#3d100d" stroke-width="1.05"/><ellipse cx="385" cy="1266" rx="21.4" ry="5.5" fill="url(#gDiskTop)" stroke="#3d100d" stroke-width="1.05"/>
<path d="M420.3,1266 V1294 A21.5,5.5 0 0 0 463.2,1294 V1266 Z" fill="url(#gDisk)" stroke="#3d100d" stroke-width="1.05"/><ellipse cx="441.8" cy="1266" rx="21.5" ry="5.5" fill="url(#gDiskTop)" stroke="#3d100d" stroke-width="1.05"/>
<path d="M477.4,1266 V1294 A21.6,5.5 0 0 0 520.5,1294 V1266 Z" fill="url(#gDisk)" stroke="#3d100d" stroke-width="1.05"/><ellipse cx="499" cy="1266" rx="21.6" ry="5.5" fill="url(#gDiskTop)" stroke="#3d100d" stroke-width="1.05"/>
<path d="M533.6,1266 V1294 A21.9,5.5 0 0 0 577.4,1294 V1266 Z" fill="url(#gDisk)" stroke="#3d100d" stroke-width="1.05"/><ellipse cx="555.5" cy="1266" rx="21.9" ry="5.5" fill="url(#gDiskTop)" stroke="#3d100d" stroke-width="1.05"/>
<path d="M591.3,1266 V1294 A21.2,5.5 0 0 0 633.8,1294 V1266 Z" fill="url(#gDisk)" stroke="#3d100d" stroke-width="1.05"/><ellipse cx="612.5" cy="1266" rx="21.2" ry="5.5" fill="url(#gDiskTop)" stroke="#3d100d" stroke-width="1.05"/>
<path d="M647.5,1266 V1294 A21.6,5.5 0 0 0 690.5,1294 V1266 Z" fill="url(#gDisk)" stroke="#3d100d" stroke-width="1.05"/><ellipse cx="669" cy="1266" rx="21.6" ry="5.5" fill="url(#gDiskTop)" stroke="#3d100d" stroke-width="1.05"/>
<path d="M704.1,1266 V1294 A21.8,5.5 0 0 0 747.6,1294 V1266 Z" fill="url(#gDisk)" stroke="#3d100d" stroke-width="1.05"/><ellipse cx="725.9" cy="1266" rx="21.8" ry="5.5" fill="url(#gDiskTop)" stroke="#3d100d" stroke-width="1.05"/>
<path d="M761.2,1266 V1294 A21.7,5.5 0 0 0 804.5,1294 V1266 Z" fill="url(#gDisk)" stroke="#3d100d" stroke-width="1.05"/><ellipse cx="782.9" cy="1266" rx="21.7" ry="5.5" fill="url(#gDiskTop)" stroke="#3d100d" stroke-width="1.05"/>
<path d="M818,1266 V1294 A21.4,5.5 0 0 0 860.8,1294 V1266 Z" fill="url(#gDisk)" stroke="#3d100d" stroke-width="1.05"/><ellipse cx="839.4" cy="1266" rx="21.4" ry="5.5" fill="url(#gDiskTop)" stroke="#3d100d" stroke-width="1.05"/>
<path d="M874.4,1266 V1294 A21.7,5.5 0 0 0 917.6,1294 V1266 Z" fill="url(#gDisk)" stroke="#3d100d" stroke-width="1.05"/><ellipse cx="896" cy="1266" rx="21.7" ry="5.5" fill="url(#gDiskTop)" stroke="#3d100d" stroke-width="1.05"/>
<path d="M931.5,1266 V1294 A21.6,5.5 0 0 0 974.5,1294 V1266 Z" fill="url(#gDisk)" stroke="#3d100d" stroke-width="1.05"/><ellipse cx="953" cy="1266" rx="21.6" ry="5.5" fill="url(#gDiskTop)" stroke="#3d100d" stroke-width="1.05"/>
<rect x="257.5" y="987.6" width="300" height="69.6" fill="#fff"/>
<rect x="557.4" y="996" width="7.1" height="61.3" fill="#f0f0ef"/>
<rect x="564" y="996" width=".8" height="45" fill="#d6d6d2"/>
<rect x="568.1" y="990" width="300.1" height="69.2" fill="#fff"/>
<text transform="translate(295.83,1045.63) scale(0.94,1)" font-size="58.28" fill="#222" stroke="#fff" stroke-width="0.4">Cluster-1</text>
<text transform="translate(606.93,1047.03) scale(0.93,1)" font-size="58.28" fill="#222" stroke="#fff" stroke-width="0.4">Cluster-2</text>
<rect x="113.9" y="993.9" width="172.1" height="106" fill="#663374"/>
<rect x="833.1" y="998.1" width="170.6" height="117.7" fill="#663374"/>
<text transform="translate(155.51,1034.12) scale(1.02,1)" font-size="43.64" fill="#fff" stroke="#fff" stroke-width="2.1" stroke-linejoin="round">25%</text>
<text transform="translate(149.39,1095.02) scale(1.05,1)" font-size="43.57" fill="#fff" stroke="#fff" stroke-width="2.1" stroke-linejoin="round">Load</text>
<text transform="translate(873.6,1045.4) scale(0.96,1)" font-size="46.47" fill="#fff" stroke="#fff" stroke-width="2.1" stroke-linejoin="round">25%</text>
<text transform="translate(867.72,1106.59) scale(0.97,1)" font-size="46.98" fill="#fff" stroke="#fff" stroke-width="2.1" stroke-linejoin="round">Load</text>
<path d="M456.5,875.9 V977.2 A102,17.5 0 0 0 660.6,977.2 V875.9 Z" fill="#4fad5b" stroke="#000" stroke-width="2.2"/>
<ellipse cx="558.5" cy="875.9" rx="102" ry="17.5" fill="#96cf9c" stroke="#000" stroke-width="2.2"/>
<polygon points="1098.3,708 1133.6,736.5 1190.5,716.2 1198.7,748.6 1268.7,739.6 1248.6,770.9 1321,774.5 1275.6,800 1339.3,815.8 1275.6,831.6 1321,857.1 1248.6,860.7 1268.7,892 1198.7,883 1190.5,915.4 1133.6,895.1 1098.3,923.6 1063,895.1 1006.1,915.4 997.9,883 927.9,892 948,860.7 875.6,857.1 921,831.6 857.3,815.8 921,800 875.6,774.5 948,770.9 927.9,739.6 997.9,748.6 1006.1,716.2 1063,736.5" fill="#4eacea"/>
<text transform="translate(1041.1,816.9) scale(0.93,1)" font-size="86.63" fill="#bd2a2a" stroke="#4eacea" stroke-width="0.6">HV</text>
<text transform="translate(977.68,892.8) scale(0.99,1)" font-size="57.96" fill="#bd2a2a">Midrange</text>
</svg></body></html>
